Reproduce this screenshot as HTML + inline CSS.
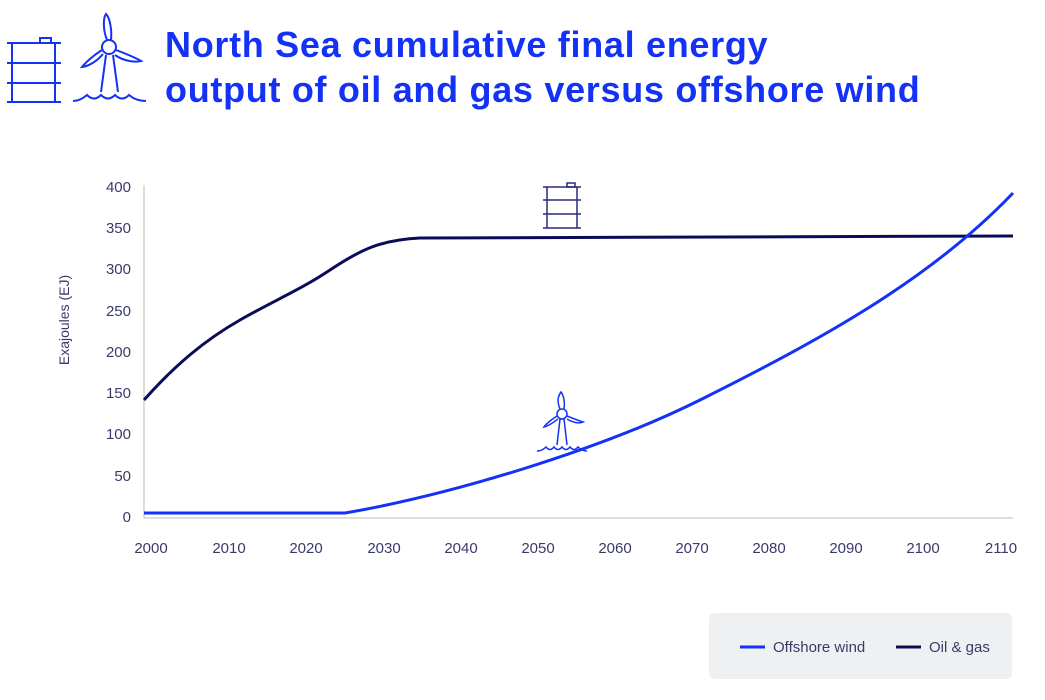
<!DOCTYPE html>
<html><head><meta charset="utf-8"><style>
body{margin:0;background:#fff;width:1045px;height:700px;overflow:hidden;font-family:"Liberation Sans",sans-serif}
.t{position:absolute;left:165px;top:22px;color:#1432f5;font-size:36px;font-weight:bold;line-height:45px;letter-spacing:0.7px}
</style></head><body>
<div class="t">North Sea cumulative final energy<br>output of oil and gas versus offshore wind</div>
<svg width="1045" height="700" style="position:absolute;left:0;top:0" xmlns="http://www.w3.org/2000/svg">
<g stroke="#1432f5" stroke-width="2" fill="none">
<line x1="7" y1="43" x2="61" y2="43"/><line x1="7" y1="63" x2="61" y2="63"/><line x1="7" y1="83" x2="61" y2="83"/><line x1="7" y1="102" x2="61" y2="102"/>
<line x1="12" y1="43" x2="12" y2="102"/><line x1="55" y1="43" x2="55" y2="102"/><rect x="40" y="38" width="11" height="5"/>
<circle cx="109" cy="47" r="7"/><path d="M107 40 C103 30 103 18 106 14 C110 18 112 30 111 40"/>
<path d="M102 50 C94 55 86 62 82 67 C90 66 98 60 103 54"/><path d="M116 50 C124 53 136 58 141 61 C133 63 122 60 115 55"/>
<line x1="106" y1="55" x2="101" y2="92"/><line x1="113" y1="55" x2="118" y2="92"/>
<path d="M73 101 Q80 101 87 95 Q94 102 101 95 Q108 102 115 95 Q122 102 129 95 Q136 101 146 101"/>
</g>
<g font-size="15" fill="#3a3a6a" text-anchor="end">
<text x="131" y="192">400</text><text x="131" y="233">350</text><text x="131" y="274">300</text><text x="131" y="316">250</text><text x="131" y="357">200</text><text x="131" y="398">150</text><text x="131" y="439">100</text><text x="131" y="481">50</text><text x="131" y="522">0</text>
</g>
<g font-size="15" fill="#3a3a6a" text-anchor="middle">
<text x="151" y="553">2000</text><text x="229" y="553">2010</text><text x="306" y="553">2020</text><text x="384" y="553">2030</text><text x="461" y="553">2040</text><text x="538" y="553">2050</text><text x="615" y="553">2060</text><text x="692" y="553">2070</text><text x="769" y="553">2080</text><text x="846" y="553">2090</text><text x="923" y="553">2100</text><text x="1001" y="553">2110</text>
</g>
<text transform="translate(69,320) rotate(-90)" font-size="14" fill="#3a3a6a" text-anchor="middle">Exajoules (EJ)</text>
<line x1="144" y1="185" x2="144" y2="518" stroke="#bbb" stroke-width="1"/>
<line x1="144" y1="518" x2="1013" y2="518" stroke="#bbb" stroke-width="1"/>
<path fill="none" stroke="#0b0b5a" stroke-width="3" stroke-linejoin="round" d="M144 400 C175 365 205 340 240 320 C275 300 300 290 330 270 C360 250 380 240 420 238 L1013 236"/>
<path fill="none" stroke="#1432f5" stroke-width="3" stroke-linejoin="round" d="M144 513 L345 513 C450 495 600 450 700 400 C820 340 930 280 1013 193"/>
<g stroke="#2a2a7a" stroke-width="1.5" fill="none">
<line x1="543" y1="187" x2="581" y2="187"/><line x1="543" y1="200" x2="581" y2="200"/><line x1="543" y1="214" x2="581" y2="214"/><line x1="543" y1="228" x2="581" y2="228"/>
<line x1="547" y1="187" x2="547" y2="228"/><line x1="577" y1="187" x2="577" y2="228"/><rect x="567" y="183" width="8" height="4"/>
</g>
<g stroke="#1432f5" stroke-width="1.5" fill="none">
<circle cx="562" cy="414" r="5"/><path d="M560 409 C557 402 558 396 561 392 C564 396 565 403 564 409"/>
<path d="M557 416 C552 419 546 424 544 427 C549 426 554 422 558 419"/><path d="M567 416 C572 418 580 421 583 422 C578 424 572 422 567 419"/>
<line x1="560" y1="419" x2="557" y2="445"/><line x1="564" y1="419" x2="567" y2="445"/>
<path d="M537 451 Q542 451 546 447 Q550 452 554 447 Q558 452 562 447 Q566 452 570 447 Q574 452 578 447 Q582 451 587 451"/>
</g>
<rect x="709" y="613" width="303" height="66" rx="5" fill="#eff0f1"/>
<line x1="740" y1="647" x2="765" y2="647" stroke="#1432f5" stroke-width="3"/>
<text x="773" y="652" font-size="15" fill="#3a3a6a">Offshore wind</text>
<line x1="896" y1="647" x2="921" y2="647" stroke="#0b0b5a" stroke-width="3"/>
<text x="929" y="652" font-size="15" fill="#3a3a6a">Oil &amp; gas</text>
</svg>
</body></html>
